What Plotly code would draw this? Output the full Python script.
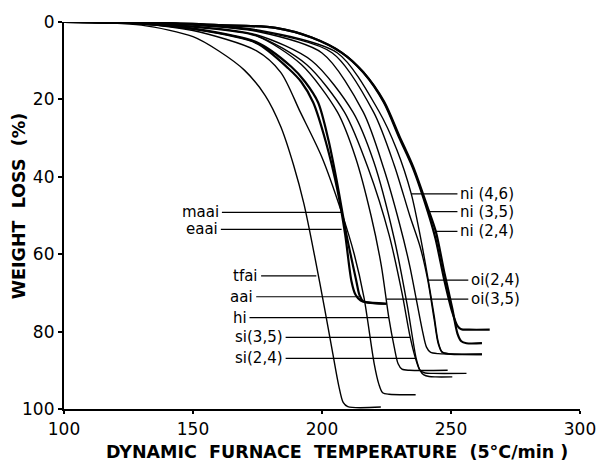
import plotly.graph_objects as go

# ---- data: temperature (deg C) vs weight loss (%) ----
tfai_T = [100, 130, 150, 160, 170, 178, 184, 189, 193, 197.3, 201, 204, 206.5, 208.2, 210, 222.8]
tfai_W = [0, 0.8, 3.8, 7.5, 12.5, 19, 27, 37, 47, 61, 74, 85, 94, 98.3, 99.4, 99.5]

maai_T = [100, 130, 150, 174.5, 184, 191.6, 200, 207.6, 212.5, 216.3, 220.2, 222, 223.5, 226, 236.3]
maai_W = [0, 0.5, 2.2, 7.4, 13, 23.3, 35, 49.2, 60, 71.3, 88.2, 93.5, 95.8, 96.2, 96.3]

eaai_T = [100, 130, 150, 174.5, 187, 192, 196.6, 201.5, 206.1, 209, 211.4, 213, 215, 217, 225]
eaai_W = [0, 0.4, 1.8, 5.4, 12, 15.5, 20.8, 31, 43.8, 55, 66.9, 70.5, 72, 72.4, 72.8]

aai_T = [100, 130, 150, 174.5, 188, 193.5, 198.5, 202.5, 205.7, 209.5, 213.3, 214.5, 216, 225]
aai_W = [0, 0.4, 1.7, 5.2, 11.5, 15.5, 20.8, 30.5, 41, 55, 66.9, 70.5, 72.2, 72.8]

hi_T = [100, 130, 150, 174.5, 192, 206, 213, 219, 223, 225.9, 228, 229.5, 231, 234, 248.7]
hi_W = [0, 0.3, 1.3, 3.6, 11, 23.3, 35, 50, 63, 76.4, 84, 88.3, 89.7, 90, 90]

si35_T = [100, 130, 150, 174.5, 194, 208.7, 218, 226, 231, 234.2, 236.5, 238, 240, 243, 256]
si35_W = [0, 0.3, 1.2, 3.5, 11, 23.3, 38, 55, 70, 81.5, 87.5, 90, 90.7, 90.8, 90.8]

si24_T = [100, 130, 150, 174.5, 196, 212, 220, 228, 233, 236.5, 238, 239.5, 241.5, 244, 250.5]
si24_W = [0, 0.3, 1.1, 3.3, 10, 23.3, 36, 56, 73, 86.9, 90, 91.2, 91.6, 91.7, 91.7]

oi35_T = [100, 130, 150, 174.5, 200, 216, 224, 230, 234, 236.5, 239, 240.5, 242, 245, 262]
oi35_W = [0, 0.2, 0.8, 2.4, 8, 23.3, 38, 52, 63, 71.5, 80, 84, 85.3, 85.7, 85.8]

oi24_T = [100, 130, 150, 174.5, 204, 220, 228, 234, 238, 241, 243.5, 245, 246.5, 249, 262]
oi24_W = [0, 0.2, 0.7, 2.2, 8, 23.3, 37, 50, 58, 66.7, 77, 83, 85.3, 85.8, 85.9]

ni46_T = [100, 130, 150, 174.5, 206, 222, 229, 234.6, 238, 241, 243.5, 245, 246.5, 249, 262]
ni46_W = [0, 0.2, 0.6, 2, 8, 23, 33, 44.4, 55, 66, 76, 82.5, 85.2, 85.7, 85.9]

ni35_T = [100, 140, 160, 182, 196, 207.6, 216, 224, 230, 235.4, 241, 244, 247.5, 250.5, 252.5, 254, 257, 265]
ni35_W = [0, 0.3, 0.8, 1.5, 4, 7.9, 13, 20.8, 30, 38, 49, 56, 67, 75, 78.5, 79.4, 79.5, 79.5]

ni24_T = [100, 140, 160, 182, 196, 207.6, 216, 224, 230, 235.4, 241, 244.1, 247.5, 250.5, 252.5, 254, 256, 262]
ni24_W = [0, 0.3, 0.8, 1.5, 4, 7.9, 13, 20.5, 29.5, 37.5, 48, 54.1, 65, 74, 80.5, 82.5, 83, 83]

x_ticks = [100, 150, 200, 250, 300]
y_ticks = [0, 20, 40, 60, 80, 100]

series = [
    ("tfai", tfai_T, tfai_W, 1.4),
    ("maai", maai_T, maai_W, 1.4),
    ("eaai", eaai_T, eaai_W, 2.2),
    ("aai", aai_T, aai_W, 2.2),
    ("hi", hi_T, hi_W, 1.4),
    ("si(3,5)", si35_T, si35_W, 1.4),
    ("si(2,4)", si24_T, si24_W, 1.4),
    ("oi(3,5)", oi35_T, oi35_W, 1.4),
    ("oi(2,4)", oi24_T, oi24_W, 1.4),
    ("ni(4,6)", ni46_T, ni46_W, 1.4),
    ("ni(3,5)", ni35_T, ni35_W, 2.2),
    ("ni(2,4)", ni24_T, ni24_W, 2.2),
]

# label text, leader y (%), leader x from, leader x to, side of text
labels = [
    ("maai", 49.2, 161.2, 207.6, "left"),
    ("eaai", 53.6, 160.8, 207.6, "left"),
    ("tfai", 65.6, 176.4, 197.8, "left"),
    ("aai", 71.0, 174.5, 214.3, "left"),
    ("hi", 76.4, 171.9, 225.9, "left"),
    ("si(3,5)", 81.5, 185.9, 234.2, "left"),
    ("si(2,4)", 86.9, 185.9, 236.5, "left"),
    ("ni (4,6)", 44.4, 234.6, 252.5, "right"),
    ("ni (3,5)", 49.0, 241.1, 252.5, "right"),
    ("ni (2,4)", 54.1, 244.1, 252.5, "right"),
    ("oi(2,4)", 66.7, 241.1, 256.7, "right"),
    ("oi(3,5)", 71.6, 225.0, 256.7, "right"),
]

fig = go.Figure()
for name, T, W, lw in series:
    fig.add_trace(go.Scatter(x=T, y=W, mode="lines", name=name,
                             line=dict(color="black", width=lw, shape="spline", smoothing=0.8),
                             showlegend=False, hoverinfo="skip"))

font_lbl = dict(family="DejaVu Sans", size=15, color="black")
for text, y, x0, x1, side in labels:
    fig.add_shape(type="line", xref="x", yref="y", x0=x0, x1=x1, y0=y, y1=y,
                  line=dict(color="black", width=1.2))
    if side == "left":
        fig.add_annotation(x=x0, y=y, xref="x", yref="y", text=text, showarrow=False,
                           xanchor="right", yanchor="middle", xshift=-1, font=font_lbl)
    else:
        fig.add_annotation(x=x1, y=y, xref="x", yref="y", text=text, showarrow=False,
                           xanchor="left", yanchor="middle", xshift=1, font=font_lbl)

fig.add_annotation(x=0.529, y=-0.11, xref="paper", yref="paper",
                   text="DYNAMIC  FURNACE  TEMPERATURE  (5°C/min )", showarrow=False,
                   xanchor="center", yanchor="middle",
                   font=dict(family="DejaVu Sans", size=17.5, color="black", weight="bold"))
fig.add_annotation(x=-0.088, y=0.523, xref="paper", yref="paper",
                   text="WEIGHT  LOSS  (%)", showarrow=False, textangle=-90,
                   xanchor="center", yanchor="middle",
                   font=dict(family="DejaVu Sans", size=17.5, color="black", weight="bold"))

fig.update_layout(
    width=608, height=467,
    margin=dict(l=64, r=18, t=19, b=58),
    plot_bgcolor="white", paper_bgcolor="white",
    xaxis=dict(range=[100, 300], tickvals=x_ticks, showgrid=False, zeroline=False,
               showline=True, linecolor="black", linewidth=2.2,
               ticks="outside", ticklen=3, tickwidth=1.5, tickcolor="black",
               tickfont=dict(family="DejaVu Sans", size=17, color="black")),
    yaxis=dict(range=[100, 0], tickvals=y_ticks, showgrid=False, zeroline=False,
               showline=True, linecolor="black", linewidth=2.2,
               ticks="outside", ticklen=4, tickwidth=1.5, tickcolor="black",
               tickfont=dict(family="DejaVu Sans", size=17, color="black")),
)

fig.write_html("out.html")
